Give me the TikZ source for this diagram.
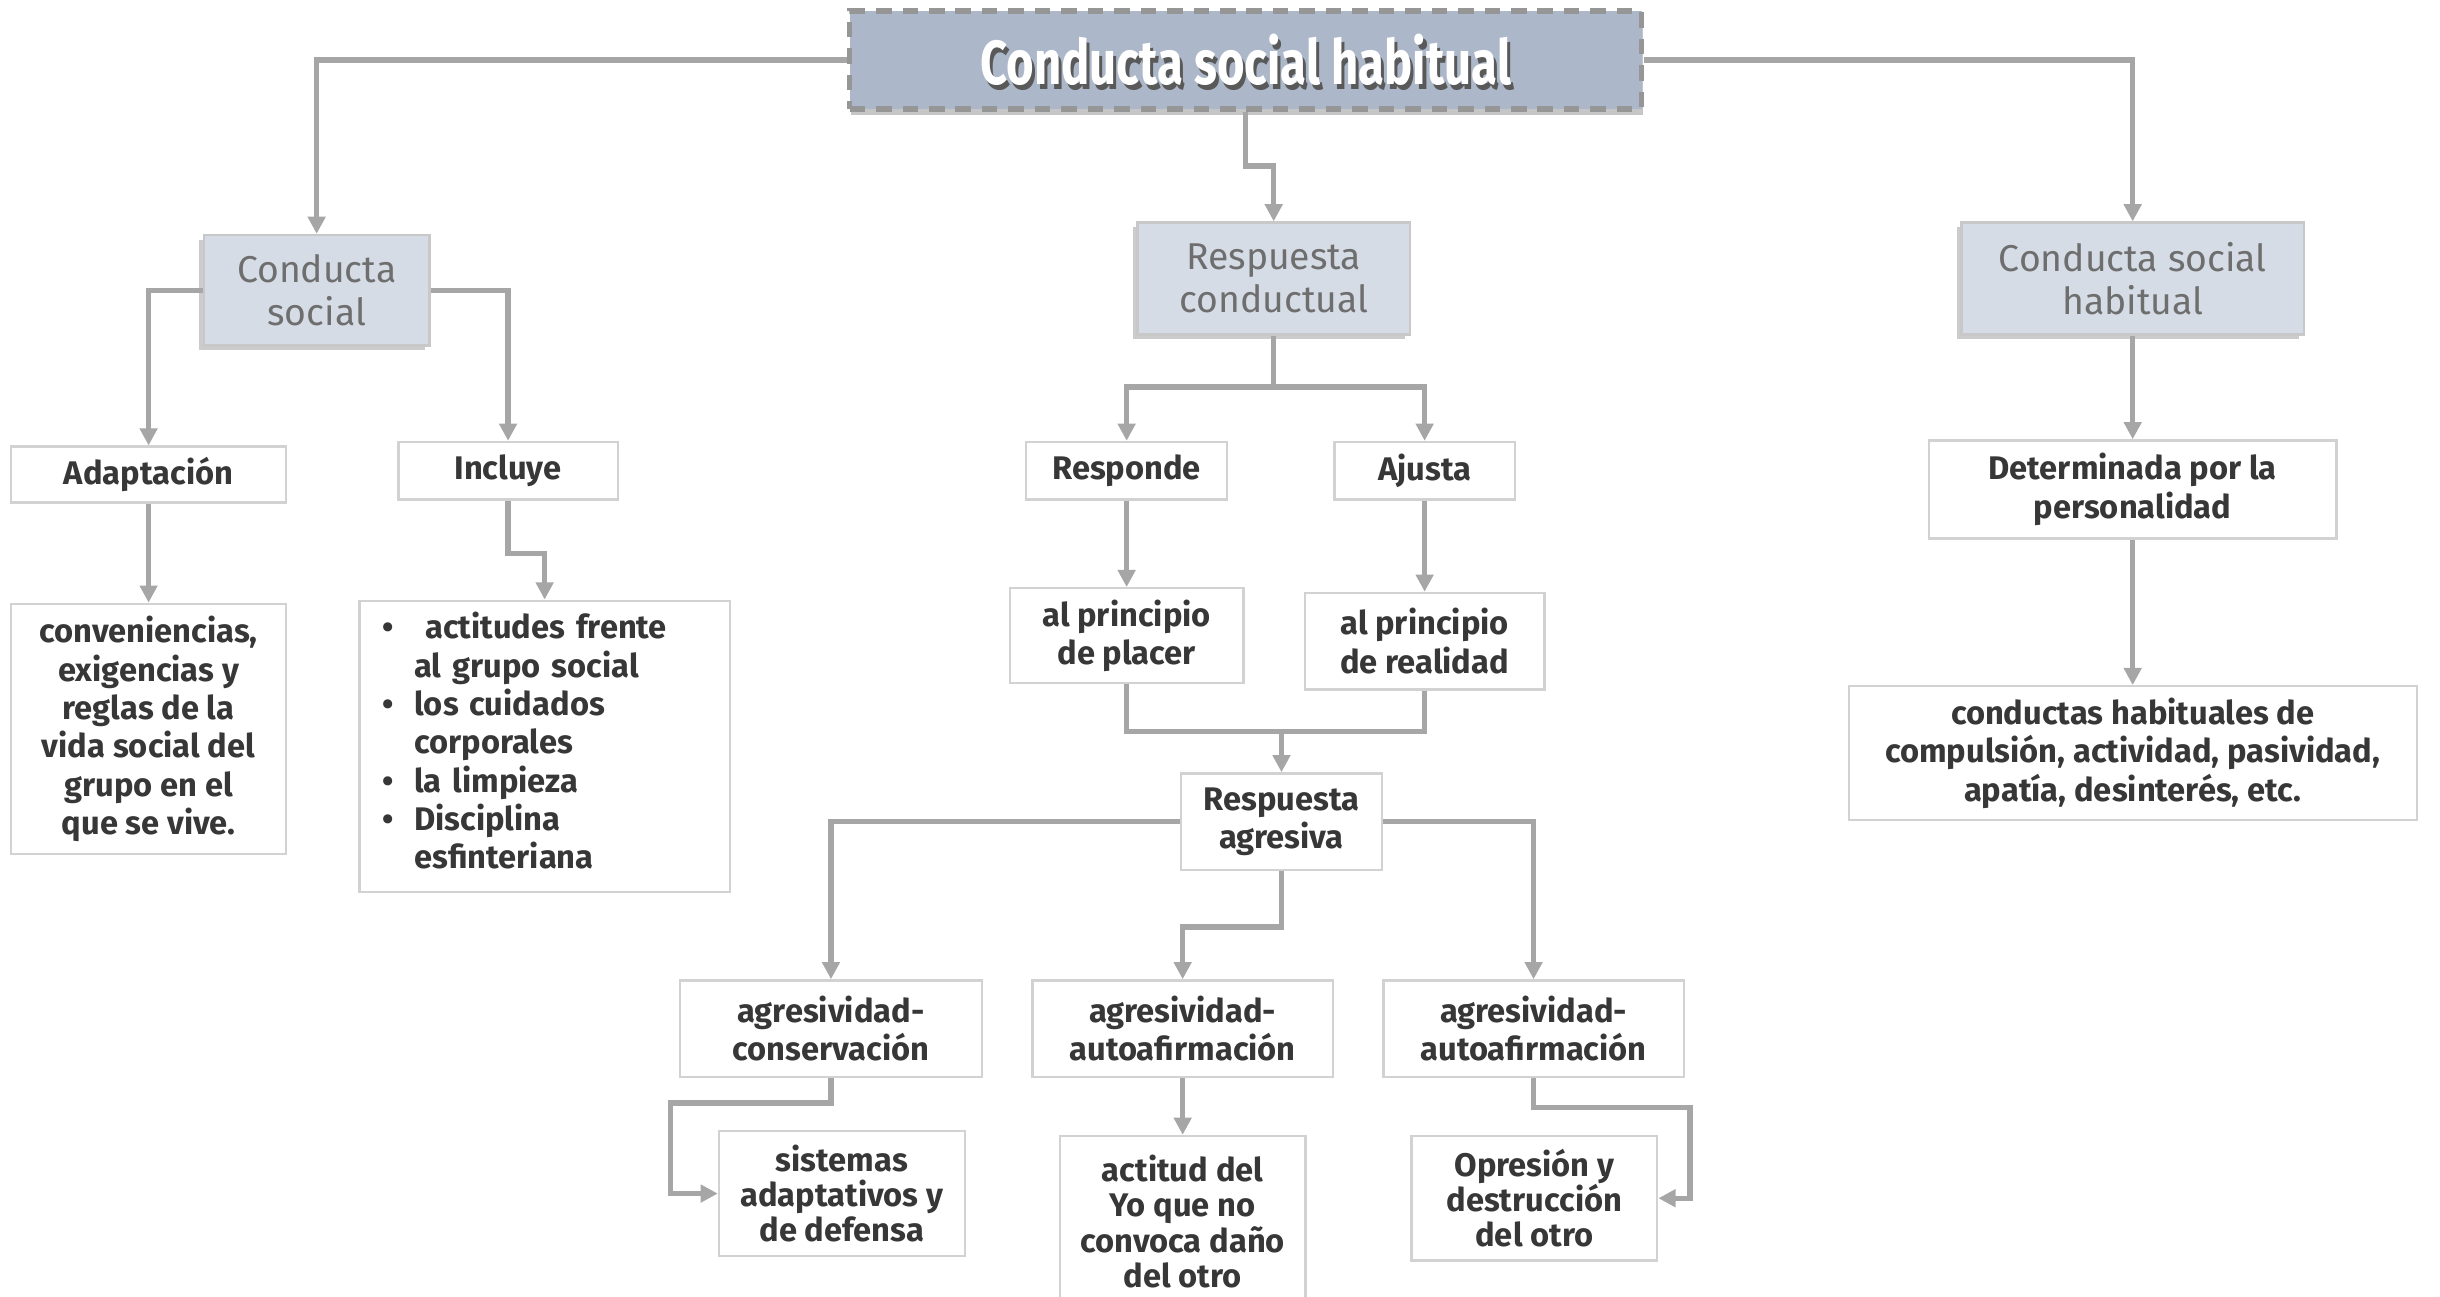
\documentclass[tikz,border=0pt]{standalone}
\usepackage{fontspec}
\setmainfont{Fira Sans}
\newfontfamily\ttlfont[FakeStretch=0.76]{Fira Sans}
\usetikzlibrary{arrows.meta,shadows}

\definecolor{topfill}{RGB}{172,184,202}
\definecolor{topline}{RGB}{150,150,150}
\definecolor{hdrfill}{RGB}{214,220,229}
\definecolor{hdrline}{RGB}{200,200,200}
\definecolor{hdrtext}{RGB}{110,110,110}
\definecolor{boxline}{RGB}{210,210,210}
\definecolor{bodytext}{RGB}{55,55,55}
\definecolor{linkgray}{RGB}{166,166,166}

\newcommand\hdrfont{\fontsize{24}{28}\selectfont}
\newcommand\bodyfont{\fontsize{21}{24.6}\selectfont\bfseries}
\newcommand\tightfont{\fontsize{21}{22.7}\selectfont\bfseries}

\begin{document}
\begin{tikzpicture}
    [
    x=1pt, y=-1pt,
    topbox/.style={draw=topline,line width=3.5pt,dash pattern=on 10pt off 7pt,fill=topfill,
      minimum width=509pt,minimum height=63pt,drop shadow={shadow xshift=1pt,shadow yshift=-4pt,opacity=.45}},
    toptext/.style={font=\ttlfont\bfseries\fontsize{40}{44}\selectfont},
    hdr/.style={draw=hdrline,line width=1.5pt,fill=hdrfill,text=hdrtext,font=\hdrfont,align=center,
      drop shadow={shadow xshift=-3pt,shadow yshift=-3pt,opacity=.4}},
    box/.style={draw=boxline,line width=1.5pt,fill=white,text=bodytext,font=\bodyfont,align=center},
    sz/.style 2 args={minimum width=#1pt,minimum height=#2pt},
    joint/.style={draw=linkgray,line width=3.5pt},
    link/.style={joint,-{Triangle[length=11pt,width=11pt]}}
    ]
    \useasboundingbox (0,0) rectangle (1568,833);
    \clip (0,0) rectangle (1568,833);
    % top
    \node (top) at (800.5,38.5) [topbox] {};
    \node (topshd) at (802.5,41.5) [toptext,text=black!65] {Conducta social habitual};
    \node (toptxt) at (800.5,38.5) [toptext,text=white] {Conducta social habitual};
    % headers
    \node (cs) at (203.5,186.5) [hdr,sz={145}{71}] {Conducta\\social};
    \node (rc) at (818.5,179) [hdr,sz={175}{72}] {Respuesta\\conductual};
    \node (csh) at (1370.5,179) [hdr,sz={220}{72}] {Conducta social\\habitual};
    % left branch
    \node (adap) at (95.5,305) [box,sz={177}{36}] {Adaptación};
    \node (incl) at (326.5,302.5) [box,sz={141}{37}] {Incluye};
    \node (conv) at (95.5,468.5) [box,sz={177}{161}] {conveniencias,\\exigencias y\\reglas de la\\vida social del\\grupo en el\\que se vive.};
    \node (lst) at (350,479.5) [box,sz={238}{187},text width=208pt,inner xsep=15pt,align=left]
      {\begin{tabular}{@{}l@{\hspace{13pt}}l@{}}
       \textbullet & \ actitudes frente\\
                   & al grupo social\\
       \textbullet & los cuidados\\
                   & corporales\\
       \textbullet & la limpieza\\
       \textbullet & Disciplina\\
                   & esfinteriana
       \end{tabular}};
    % middle branch
    \node (resp) at (724,302.5) [box,sz={129}{37}] {Responde};
    \node (ajus) at (915.5,302.5) [box,sz={116}{37}] {Ajusta};
    \node (plac) at (724,408.5) [box,sz={150}{61}] {al principio\\de placer};
    \node (real) at (915.5,412) [box,sz={154}{62}] {al principio\\de realidad};
    \coordinate (j) at (823.5,470);
    \node (agr) at (823.5,528) [box,sz={129}{62}] {Respuesta\\agresiva};
    \node (cons) at (534,661) [box,sz={194}{62}] {agresividad-\\conservación};
    \node (auto1) at (760,661) [box,sz={193}{62}] {agresividad-\\autoafirmación};
    \node (auto2) at (985.5,661) [box,sz={193}{62}] {agresividad-\\autoafirmación};
    \node (sist) at (541,767) [box,font=\tightfont,sz={158}{80}] {sistemas\\adaptativos y\\de defensa};
    \node (acti) at (760,785) [box,font=\tightfont,sz={158}{110}] {actitud del\\Yo que no\\convoca daño\\del otro};
    \node (opr) at (986,770) [box,font=\tightfont,sz={158}{80}] {Opresión y\\destrucción\\del otro};
    % right branch
    \node (det) at (1370.5,314.5) [box,sz={262}{63}] {Determinada por la\\personalidad};
    \node (cond) at (1370.5,484) [box,sz={365}{86}] {conductas habituales de\\compulsión, actividad, pasividad,\\apatía, desinterés, etc.};
    % connectors
    \draw [link] (top.west) -| (cs.north);
    \draw [link] (top.south) -- ++(0,35) -| (rc.north);
    \draw [link] (top.east) -| (csh.north);
    \draw [link] (cs.west) -| (adap.north);
    \draw [link] (cs.east) -| (incl.north);
    \draw [link] (adap) to (conv);
    \draw [link] (incl.south) -- ++(0,34) -| (lst.north);
    \draw [link] (rc.south) -- ++(0,33) -| (resp.north);
    \draw [link] (rc.south) -- ++(0,33) -| (ajus.north);
    \draw [link] (resp) to (plac);
    \draw [link] (ajus) to (real);
    \draw [joint] (plac.south) |- (j);
    \draw [joint] (real.south) |- (j);
    \draw [link] (j) to (agr.north);
    \draw [link] (agr.west) -| (cons.north);
    \draw [link] (agr.south) -- ++(0,36) -| (auto1.north);
    \draw [link] (agr.east) -| (auto2.north);
    \draw [link] (cons.south) -- ++(0,16) -- ++(-103,0) |- (sist.west);
    \draw [link] (auto1) to (acti);
    \draw [link] (auto2.south) -- ++(0,19) -- ++(100.5,0) |- (opr.east);
    \draw [link] (csh) to (det);
    \draw [link] (det) to (cond);
\end{tikzpicture}
\end{document}
